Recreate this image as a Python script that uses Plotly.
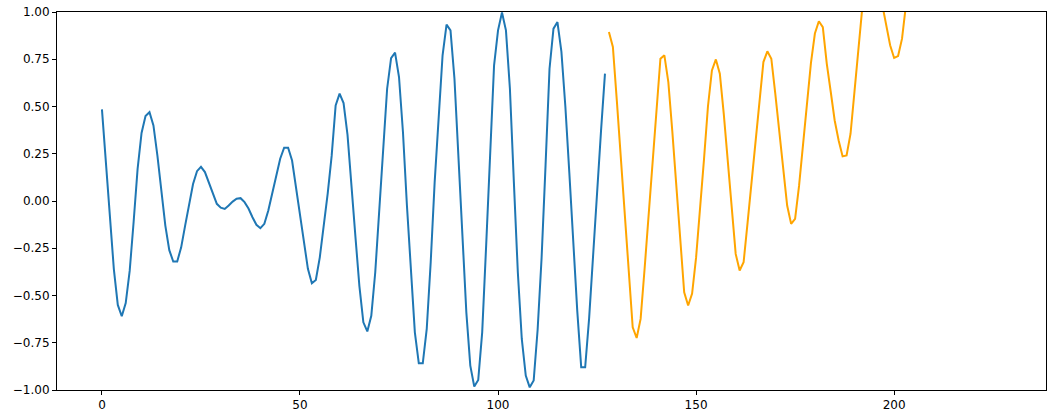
import plotly.graph_objects as go

# observed series (x = 0..127)
blue_vals = [
    0.485, 0.20, -0.09, -0.36, -0.55, -0.61, -0.54, -0.37, -0.11, 0.17,
    0.36, 0.45, 0.47, 0.40, 0.24, 0.05, -0.13, -0.26, -0.32, -0.32,
    -0.245, -0.13, -0.01, 0.09, 0.158, 0.181, 0.153, 0.10, 0.04, -0.015,
    -0.035, -0.042, -0.024, -0.003, 0.012, 0.015, -0.006, -0.04, -0.086, -0.126,
    -0.144, -0.121, -0.05, 0.038, 0.135, 0.224, 0.282, 0.282, 0.214, 0.073,
    -0.068, -0.227, -0.359, -0.435, -0.418, -0.298, -0.13, 0.04, 0.24, 0.506,
    0.568, 0.518, 0.35, 0.10, -0.19, -0.45, -0.642, -0.69, -0.607, -0.377,
    -0.06, 0.294, 0.594, 0.756, 0.785, 0.656, 0.364, -0.024, -0.377, -0.695,
    -0.859, -0.859, -0.677, -0.324, 0.10, 0.47, 0.771, 0.933, 0.903, 0.647,
    0.241, -0.20, -0.589, -0.871, -0.982, -0.947, -0.695, -0.236, 0.276, 0.718,
    0.903, 0.997, 0.903, 0.594, 0.10, -0.377, -0.73, -0.924, -0.986, -0.95,
    -0.68, -0.30, 0.19, 0.70, 0.912, 0.947, 0.79, 0.50, 0.15, -0.22,
    -0.58, -0.88, -0.88, -0.62, -0.27, 0.06, 0.37, 0.674,
]

# continuation series (x = 128..227), partly above the visible range
orange_vals = [
    0.894, 0.815, 0.53, 0.236, -0.06, -0.35, -0.668, -0.725, -0.624, -0.36,
    -0.068, 0.224, 0.516, 0.753, 0.771, 0.629, 0.37, 0.087, -0.20, -0.483,
    -0.553, -0.49, -0.30, -0.05, 0.22, 0.50, 0.691, 0.749, 0.674, 0.46,
    0.214, -0.03, -0.28, -0.368, -0.324, -0.116, 0.094, 0.305, 0.515, 0.735,
    0.792, 0.753, 0.568, 0.364, 0.162, -0.024, -0.121, -0.094, 0.08, 0.30,
    0.52, 0.73, 0.886, 0.951, 0.92, 0.727, 0.578, 0.426, 0.32, 0.236,
    0.241, 0.356, 0.58, 0.81, 1.03, 1.18, 1.25, 1.25, 1.17, 1.04,
    0.94, 0.824, 0.757, 0.767, 0.859, 1.06, 1.25, 1.40, 1.50, 1.52,
    1.45, 1.35, 1.28, 1.30, 1.42, 1.58, 1.68, 1.70, 1.62, 1.50,
    1.44, 1.48, 1.60, 1.75, 1.85, 1.86, 1.78, 1.66, 1.60, 1.65,
]

blue_x = list(range(len(blue_vals)))
orange_x = list(range(len(blue_vals), len(blue_vals) + len(orange_vals)))

x_ticks = [0, 50, 100, 150, 200]
y_ticks = [-1.0, -0.75, -0.5, -0.25, 0.0, 0.25, 0.5, 0.75, 1.0]

fig = go.Figure()

fig.add_trace(go.Scatter(
    x=blue_x, y=blue_vals, mode='lines',
    line=dict(color='#1f77b4', width=2),
    showlegend=False
))

fig.add_trace(go.Scatter(
    x=orange_x, y=orange_vals, mode='lines',
    line=dict(color='#FFA500', width=2),
    showlegend=False
))

axis_style = dict(
    showgrid=False,
    zeroline=False,
    showline=True,
    linecolor='black',
    linewidth=1,
    mirror=True,
    ticks='outside',
    ticklen=4,
    tickwidth=1,
    tickcolor='black',
    automargin=False,
)

fig.update_layout(
    width=1053,
    height=417,
    paper_bgcolor='white',
    plot_bgcolor='white',
    font=dict(family='DejaVu Sans', size=12, color='black'),
    margin=dict(l=57, r=7, t=12, b=27, pad=0),
    xaxis=dict(range=[-11.35, 238.35], tickvals=x_ticks, **axis_style),
    yaxis=dict(range=[-1.0, 1.0], tickvals=y_ticks, tickformat='.2f', **axis_style),
)

# drop the browser's default body margin so the figure sits at the page corner
fig.write_html("out.html", config={'displayModeBar': False},
               post_script="document.body.style.margin='0';")
